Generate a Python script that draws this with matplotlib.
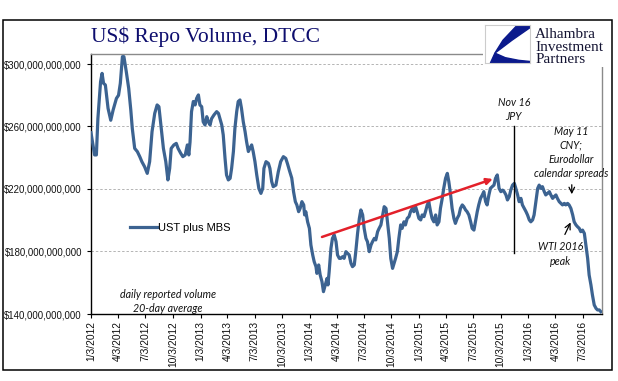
import numpy as np
import matplotlib
matplotlib.use('Agg')
import matplotlib.pyplot as plt
import matplotlib.dates as mdates
from matplotlib.patches import Rectangle, Polygon

# days since 1/3/2012 and repo volume in $ billions (20-day average)
start = np.datetime64('2012-01-03')

seg1_days = [0, 12, 18, 23, 32, 37, 42, 48, 57, 66, 74, 85, 92, 98, 105, 110, 118, 126, 133, 138,
             146, 155, 163, 170, 179, 188, 196, 204, 213, 221, 227, 235, 242, 250, 257, 263, 268,
             277, 285, 291, 300, 307, 315, 322, 327, 331, 336]
seg1_vol = [256, 241.8, 241.8, 265, 288.7, 294, 287.6, 286.6, 271.6, 264, 270.6, 278, 280, 287.6,
            304.7, 304.7, 295, 284.4, 270.6, 258.8, 246, 243.9, 240.7, 237.5, 234.3, 230, 237.5,
            256.7, 268.4, 273.8, 272.7, 258.8, 246, 237.5, 225.8, 233.2, 246, 248.2, 249.2, 246,
            242.8, 240.7, 241.8, 248.2, 241.8, 250, 269.5]

seg2_days = [342, 348, 353, 359, 364, 370, 375, 381, 387, 392, 398, 403, 411, 420, 426, 431, 437,
             442, 448, 453, 459, 465, 470, 476, 481, 487, 492, 498, 503, 509, 515, 520, 526, 531,
             537, 542, 548, 554, 561, 568, 574, 578, 585, 593, 598, 604, 609, 618, 626, 634, 643,
             651, 657, 663, 671]
seg2_vol = [276, 273.8, 278, 280.2, 273.8, 272.7, 263, 261, 266.3, 263, 261, 265, 267.4, 269.5,
            268.4, 265, 261, 254.6, 239.6, 229, 225.8, 226.8, 233.2, 244, 258.8, 269.5, 276, 277,
            271.6, 263, 256.7, 250.3, 244, 246, 248.2, 244, 237.5, 229, 220.4, 217.2, 220.4, 233.2,
            237.5, 236.4, 233.2, 224.7, 221.5, 222.5, 231, 237.5, 240.7, 239.6, 236, 232, 227]

seg3_days = [677, 683, 688, 694, 699, 705, 711, 714, 718, 724, 730, 735, 741, 746, 752, 755, 761,
             766, 772, 777, 783, 789, 792, 796, 802, 807, 813, 819, 824, 830, 835, 841, 846, 852,
             858, 863, 869, 874, 880, 885, 891, 897, 902, 908, 913, 919, 924, 930, 936, 941, 947,
             952, 958, 963, 969, 975, 980, 986, 991, 997, 1002, 1008]
seg3_vol = [218.3, 211.9, 209.8, 205.5, 207.6, 211.9, 209.8, 203.4, 205.5, 199, 194.8, 184.2,
            177.8, 173.5, 170.3, 166, 171.4, 165, 160.7, 154.3, 158.6, 162.8, 158.6, 167, 182,
            188.4, 190.6, 186.3, 177.8, 175.6, 175.6, 176.7, 175.6, 179.9, 178.8, 177.8, 172.4,
            170.3, 171.4, 179.9, 191.6, 201.2, 206.6, 203.4, 194.8, 188.4, 186.3, 179.9, 184.2,
            186.3, 188.4, 187.4, 192.7, 194.8, 197, 203.4, 208.7, 207.6, 199, 188.4, 175.6, 169.2]

seg4_days = [1018, 1024, 1029, 1035, 1040, 1046, 1051, 1057, 1063, 1068, 1074, 1079, 1085, 1090,
             1096, 1102, 1107, 1113, 1118, 1124, 1129, 1135, 1140, 1146, 1152, 1157, 1163, 1168,
             1174, 1179, 1185, 1191, 1196, 1202, 1207, 1213, 1218, 1224, 1230, 1235, 1241, 1246,
             1252, 1257, 1263, 1269, 1274, 1280, 1285, 1291, 1296, 1302, 1308, 1313, 1319, 1324,
             1330, 1335, 1341, 1347, 1352, 1358]
seg4_vol = [175.6, 179.9, 188.4, 197, 194.8, 199, 197, 201.2, 202.3, 205.5, 207.6, 205.5, 208.7,
            205.5, 201.2, 200.2, 203.4, 202.3, 205.5, 209.8, 211.9, 205.5, 201.2, 199, 203.4, 197,
            199, 207.6, 214, 220.4, 226.8, 230, 224.7, 216.2, 207.6, 201.2, 198, 201.2, 203.4,
            207.6, 209.8, 208.7, 206.6, 205.5, 203.4, 199, 194.8, 193.7, 199, 205.5, 209.8, 214,
            216.2, 218.3, 211.9, 209.8, 216.2, 220.4, 221.5, 222.5, 226.8, 229]

seg5_days = [1364, 1370, 1376, 1381, 1387, 1392, 1398, 1403, 1409, 1415, 1420, 1426, 1431, 1437,
             1442, 1448, 1454, 1459, 1465, 1470, 1476, 1481, 1487, 1493, 1498, 1504, 1509, 1515,
             1520, 1526, 1532, 1537, 1543, 1548, 1554, 1559, 1565, 1571, 1576, 1582, 1587, 1593,
             1598, 1604, 1610, 1615, 1621, 1626, 1632, 1637, 1643, 1649, 1654, 1660, 1665, 1671,
             1676, 1682, 1688, 1693, 1699, 1704]
seg5_vol = [220.4, 218.3, 219.3, 218.3, 216.2, 213, 215.1, 219.3, 222.5, 223.6, 220.4, 216.2,
            211.9, 214, 209.8, 207.6, 205.5, 203.4, 200.2, 199, 200.2, 203.4, 211.9, 220.4, 222.5,
            220.4, 221.5, 218.3, 216.2, 217.2, 218.3, 216.2, 214, 215.1, 216.2, 214, 211.9, 210.8,
            209.8, 210.8, 209.8, 210.8, 209.8, 207.6, 203.4, 199, 197, 195.9, 194.8, 192.7, 193.7,
            191.6, 184.2, 175.6, 165, 158.6, 152.2, 145.8, 143.6, 142.6, 142.6, 141.5]

tick_labels = ['1/3/2012', '4/3/2012', '7/3/2012', '10/3/2012', '1/3/2013', '4/3/2013',
               '7/3/2013', '10/3/2013', '1/3/2014', '4/3/2014', '7/3/2014', '10/3/2014',
               '1/3/2015', '4/3/2015', '7/3/2015', '10/3/2015', '1/3/2016', '4/3/2016', '7/3/2016']
y_ticks = [140, 180, 220, 260, 300]

days = np.array(seg1_days + seg2_days + seg3_days + seg4_days + seg5_days)
vol = np.array(seg1_vol + seg2_vol + seg3_vol + seg4_vol + seg5_vol)


def d(n):
    return mdates.date2num(start + np.timedelta64(int(n), 'D'))


x = mdates.date2num(start + days.astype('timedelta64[D]'))
tick_pos = [mdates.date2num(np.datetime64('{2}-{0:0>2}-{1:0>2}'.format(*t.split('/'))))
            for t in tick_labels]

ital = dict(family='Lato', style='italic', fontsize=7.7, color='#111111')

fig = plt.figure(figsize=(6.18, 3.81), dpi=100)
ax = fig.add_axes([91 / 618, 1 - 314 / 381, 511 / 618, 260 / 381])

ax.plot(x, vol, color='#3c6391', lw=2.3, solid_joinstyle='round', label='UST plus MBS', zorder=3)

ax.set_xlim(d(0), d(1708))
ax.set_ylim(140, 306.4)
ax.set_yticks(y_ticks)
ax.set_yticklabels(['${:,.0f}'.format(v * 1e9) for v in y_ticks], family='Liberation Sans',
                   fontsize=6.9, color='#111111')
ax.set_xticks(tick_pos)
ax.set_xticklabels(tick_labels, rotation=90, family='Liberation Sans', fontsize=7.4,
                   color='#111111')
ax.tick_params(axis='both', direction='out', length=3, width=0.8, color='black')
ax.tick_params(axis='y', pad=3.5)
ax.tick_params(axis='x', pad=2)
ax.grid(axis='y', ls=(0, (2.5, 2)), color='#b4b4b4', lw=0.7)
ax.set_axisbelow(True)
for side in ['left', 'bottom']:
    ax.spines[side].set_color('black')
    ax.spines[side].set_linewidth(1)
for side in ['top', 'right']:
    ax.spines[side].set_color('#8a8a8a')
    ax.spines[side].set_linewidth(1)

leg = ax.legend(loc='center left', bbox_to_anchor=(0.076, 0.331), frameon=False,
                handlelength=2.4, handletextpad=0.1, borderpad=0, borderaxespad=0,
                prop=dict(family='Liberation Sans', size=8))

# annotations
ax.text(d(257), 148, 'daily reported volume\n20-day average', ha='center', va='center',
        linespacing=1.35, **ital)
ax.plot([d(1413), d(1413)], [178.9, 260.5], color='black', lw=1, zorder=4)
ax.text(d(1413), 270.9, 'Nov 16\nJPY', ha='center', va='center', linespacing=1.35, **ital)
ax.text(d(1604), 243.4, 'May 11\nCNY;\nEurodollar\ncalendar spreads', ha='center',
        va='center', linespacing=1.35, **ital)
ax.annotate('', xy=(d(1607), 214.9), xytext=(d(1607), 224.5),
            arrowprops=dict(arrowstyle='->', color='black', lw=0.9))
ax.annotate('', xy=(d(1607), 200.2), xytext=(d(1580), 189.3),
            arrowprops=dict(arrowstyle='->', color='black', lw=0.9))
ax.text(d(1570), 178.4, 'WTI 2016\npeak', ha='center', va='center', linespacing=1.35, **ital)
ax.annotate('', xy=(d(1343), 226.4), xytext=(d(772), 189.3),
            arrowprops=dict(arrowstyle='-|>', color='#e3202a', lw=1.8, mutation_scale=9,
                            shrinkA=0, shrinkB=0))

# title
fig.text(91 / 618, 1 - 41.7 / 381, 'US$ Repo Volume, DTCC', family='Liberation Serif',
         fontsize=15.5, color='#0e0e6e', va='baseline', ha='left')

# logo block
fig.patches.append(Rectangle((483 / 618, 1 - 67 / 381), 128 / 618, 46 / 381,
                             transform=fig.transFigure, facecolor='white', edgecolor='none',
                             zorder=2))
lax = fig.add_axes([485 / 618, 1 - 63 / 381, 45 / 618, 38 / 381], zorder=5)
lax.set_xlim(0, 1)
lax.set_ylim(0, 1)
lax.add_patch(Polygon([(0.72, 1.0), (1.0, 1.0), (1.0, 0.93), (0.6, 0.6), (0.22, 0.26), (0.4, 0.6)],
                      closed=True, color='#0b1a8c'))
lax.add_patch(Polygon([(0.22, 0.26), (0.45, 0.14), (0.75, 0.07), (1.0, 0.04), (1.0, 0.0),
                       (0.12, 0.0)], closed=True, color='#0b1a8c'))
lax.set_xticks([])
lax.set_yticks([])
for s in lax.spines.values():
    s.set_color('#cccccc')
    s.set_linewidth(0.8)
for txt, base in zip(['Alhambra', 'Investment', 'Partners'], [38.3, 50.6, 62.8]):
    fig.text(535.3 / 618, 1 - base / 381, txt, family='Liberation Serif', fontsize=11,
             color='#141433', va='baseline', ha='left', zorder=6)

# outer frame
fig.patches.append(Rectangle((3 / 618, 1 - 370 / 381), 609 / 618, 350 / 381,
                             transform=fig.transFigure, facecolor='none', edgecolor='black',
                             lw=1.1, zorder=7))

fig.savefig('out.png', dpi=100)
